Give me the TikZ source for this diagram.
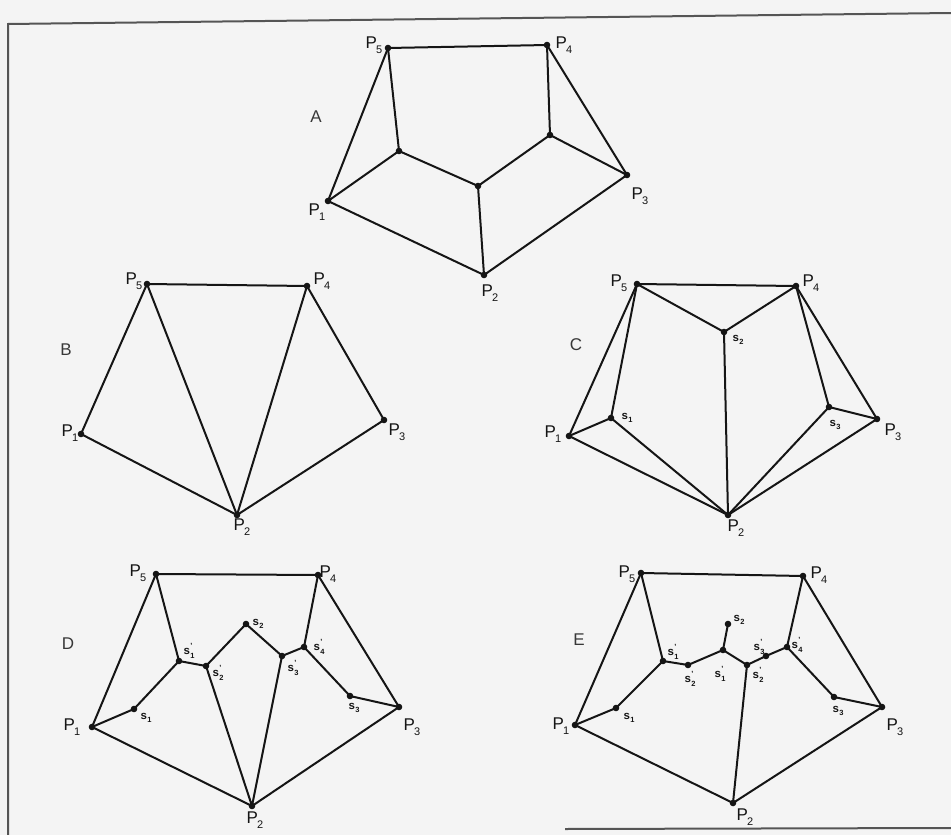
\documentclass[tikz,border=0pt]{standalone}
\usepackage{fontspec}
\setmainfont{Liberation Sans}
\newcommand{\plb}[1]{P\kern-0.8pt\raisebox{-0.6ex}{\fontsize{11}{11}\selectfont #1}}
\newcommand{\slb}[1]{s\kern0.3pt\raisebox{-0.55ex}{\fontsize{7.5}{7.5}\selectfont #1}}
\newcommand{\slbp}[1]{s\kern0.3pt\makebox[0pt][l]{\raisebox{1.0ex}{\fontsize{7.5}{7.5}\selectfont '}}\raisebox{-0.55ex}{\fontsize{7.5}{7.5}\selectfont #1}}
\definecolor{bgc}{HTML}{F4F4F4}
\definecolor{ink}{HTML}{151515}
\definecolor{framec}{HTML}{555555}
\tikzset{
  edge/.style={draw=ink, line width=2pt, line join=round, line cap=round},
  plab/.style={font=\fontsize{17}{17}\selectfont, text=ink, inner sep=0pt},
  slab/.style={font=\fontsize{11.5}{11.5}\selectfont\bfseries, text=ink, inner sep=0pt},
  panel/.style={font=\fontsize{17}{17}\selectfont, text=ink!85, inner sep=0pt},
  framel/.style={draw=framec, line width=2pt}
}
\begin{document}
\begin{tikzpicture}[x=1pt,y=-1pt]
\useasboundingbox (0,0) rectangle (951,835);
\fill[bgc] (0,0) rectangle (951,835);
% frame
\coordinate (FTL) at (8,24);
\coordinate (FTR) at (951,13);
\coordinate (FBL) at (8,835);
\coordinate (FB1) at (565,829);
\coordinate (FB2) at (951,828);
\draw[framel] (FBL) -- (FTL) -- (FTR);
\draw[framel] (FB1) -- (FB2);

% ---------------- Panel A
\coordinate (A1) at (328,201);
\coordinate (A2) at (484,275);
\coordinate (A3) at (627,175);
\coordinate (A4) at (547,45);
\coordinate (A5) at (388,48);
\coordinate (Aa) at (399,151);
\coordinate (Ab) at (478,186);
\coordinate (Ac) at (550,135);
\draw[edge] (A1) -- (A2) -- (A3) -- (A4) -- (A5) -- cycle;
\draw[edge] (A5) -- (Aa) -- (A1);
\draw[edge] (Aa) -- (Ab) -- (A2);
\draw[edge] (Ab) -- (Ac) -- (A4);
\draw[edge] (Ac) -- (A3);
\foreach \n in {A1,A2,A3,A4,A5,Aa,Ab,Ac} \fill[ink] (\n) circle (3.3);
\node[panel] (lA) at (316,117) {A};
\node[plab] (lA1) at (317,212) {\plb1};
\node[plab] (lA2) at (490,293) {\plb2};
\node[plab] (lA3) at (640,196) {\plb3};
\node[plab] (lA4) at (564,45) {\plb4};
\node[plab] (lA5) at (374,45) {\plb5};

% ---------------- Panel B
\coordinate (B1) at (81,434);
\coordinate (B2) at (237,515);
\coordinate (B3) at (384,420);
\coordinate (B4) at (307,286);
\coordinate (B5) at (147,284);
\draw[edge] (B1) -- (B2) -- (B3) -- (B4) -- (B5) -- cycle;
\draw[edge] (B5) -- (B2) -- (B4);
\foreach \n in {B1,B2,B3,B4,B5} \fill[ink] (\n) circle (3.3);
\node[panel] (lB) at (66,350) {B};
\node[plab] (lB1) at (70,433) {\plb1};
\node[plab] (lB2) at (242,527) {\plb2};
\node[plab] (lB3) at (397,432) {\plb3};
\node[plab] (lB4) at (322,281) {\plb4};
\node[plab] (lB5) at (134,281) {\plb5};

% ---------------- Panel C
\coordinate (C1) at (569,436);
\coordinate (C2) at (728,515);
\coordinate (C3) at (877,419);
\coordinate (C4) at (796,286);
\coordinate (C5) at (637,284);
\coordinate (Cs1) at (611,418);
\coordinate (Cs2) at (724,332);
\coordinate (Cs3) at (829,407);
\draw[edge] (C1) -- (C2) -- (C3) -- (C4) -- (C5) -- cycle;
\draw[edge] (C1) -- (Cs1) -- (C5);
\draw[edge] (Cs1) -- (C2);
\draw[edge] (C5) -- (Cs2) -- (C4);
\draw[edge] (Cs2) -- (C2);
\draw[edge] (C4) -- (Cs3) -- (C3);
\draw[edge] (Cs3) -- (C2);
\foreach \n in {C1,C2,C3,C4,C5,Cs1,Cs2,Cs3} \fill[ink] (\n) circle (3.3);
\node[panel] (lC) at (576,345) {C};
\node[plab] (lC1) at (553,434) {\plb1};
\node[plab] (lC2) at (736,528) {\plb2};
\node[plab] (lC3) at (893,432) {\plb3};
\node[plab] (lC4) at (811,283) {\plb4};
\node[plab] (lC5) at (619,283) {\plb5};
\node[slab] (lCs1) at (627,418) {\slb1};
\node[slab] (lCs2) at (738,340) {\slb2};
\node[slab] (lCs3) at (835,425) {\slb3};

% ---------------- Panel D
\coordinate (D1) at (92,727);
\coordinate (D2) at (252,806);
\coordinate (D3) at (399,707);
\coordinate (D4) at (318,575);
\coordinate (D5) at (156,574);
\coordinate (Ds1) at (134,709);
\coordinate (Ds1p) at (179,661);
\coordinate (Ds2p) at (206,666);
\coordinate (Ds2) at (246,624);
\coordinate (Ds3p) at (282,656);
\coordinate (Ds4p) at (304,647);
\coordinate (Ds3) at (350,696);
\draw[edge] (D1) -- (D2) -- (D3) -- (D4) -- (D5) -- cycle;
\draw[edge] (D1) -- (Ds1) -- (Ds1p) -- (D5);
\draw[edge] (Ds1p) -- (Ds2p) -- (Ds2) -- (Ds3p) -- (Ds4p) -- (D4);
\draw[edge] (Ds2p) -- (D2) -- (Ds3p);
\draw[edge] (Ds4p) -- (Ds3) -- (D3);
\foreach \n in {D1,D2,D3,D4,D5,Ds1,Ds1p,Ds2p,Ds2,Ds3p,Ds4p,Ds3} \fill[ink] (\n) circle (3.3);
\node[panel] (lD) at (68,644) {D};
\node[plab] (lD1) at (72,727) {\plb1};
\node[plab] (lD2) at (255,820) {\plb2};
\node[plab] (lD3) at (412,727) {\plb3};
\node[plab] (lD4) at (328,574) {\plb4};
\node[plab] (lD5) at (138,573) {\plb5};
\node[slab] (lDs1) at (146,718) {\slb1};
\node[slab] (lDs1p) at (189,651) {\slbp1};
\node[slab] (lDs2p) at (218,673) {\slbp2};
\node[slab] (lDs2) at (258,624) {\slb2};
\node[slab] (lDs3p) at (293,668) {\slbp3};
\node[slab] (lDs4p) at (319,647) {\slbp4};
\node[slab] (lDs3) at (354,708) {\slb3};

% ---------------- Panel E
\coordinate (E1) at (575,725);
\coordinate (E2) at (733,803);
\coordinate (E3) at (882,707);
\coordinate (E4) at (803,576);
\coordinate (E5) at (641,573);
\coordinate (Es1) at (616,708);
\coordinate (Es1p) at (663,661);
\coordinate (Es2p) at (688,665);
\coordinate (Esc) at (723,650);
\coordinate (Es2) at (728,624);
\coordinate (Es2q) at (747,665);
\coordinate (Es3p) at (766,656);
\coordinate (Es4p) at (787,647);
\coordinate (Es3) at (834,697);
\draw[edge] (E1) -- (E2) -- (E3) -- (E4) -- (E5) -- cycle;
\draw[edge] (E1) -- (Es1) -- (Es1p) -- (E5);
\draw[edge] (Es1p) -- (Es2p) -- (Esc) -- (Es2q) -- (Es3p) -- (Es4p) -- (E4);
\draw[edge] (Esc) -- (Es2);
\draw[edge] (Es2q) -- (E2);
\draw[edge] (Es4p) -- (Es3) -- (E3);
\foreach \n in {E1,E2,E3,E4,E5,Es1,Es1p,Es2p,Esc,Es2,Es2q,Es3p,Es4p,Es3} \fill[ink] (\n) circle (3.3);
\node[panel] (lE) at (579,640) {E};
\node[plab] (lE1) at (561,726) {\plb1};
\node[plab] (lE2) at (745,817) {\plb2};
\node[plab] (lE3) at (895,727) {\plb3};
\node[plab] (lE4) at (819,575) {\plb4};
\node[plab] (lE5) at (627,574) {\plb5};
\node[slab] (lEs1) at (629,718) {\slb1};
\node[slab] (lEs1p) at (673,652) {\slbp1};
\node[slab] (lEs2p) at (690,679) {\slbp2};
\node[slab] (lEsc) at (720,674) {\slbp1};
\node[slab] (lEs2) at (739,620) {\slb2};
\node[slab] (lEs2q) at (758,675) {\slbp2};
\node[slab] (lEs3p) at (759,647) {\slbp3};
\node[slab] (lEs4p) at (797,645) {\slbp4};
\node[slab] (lEs3) at (838,711) {\slb3};
\end{tikzpicture}
\end{document}
